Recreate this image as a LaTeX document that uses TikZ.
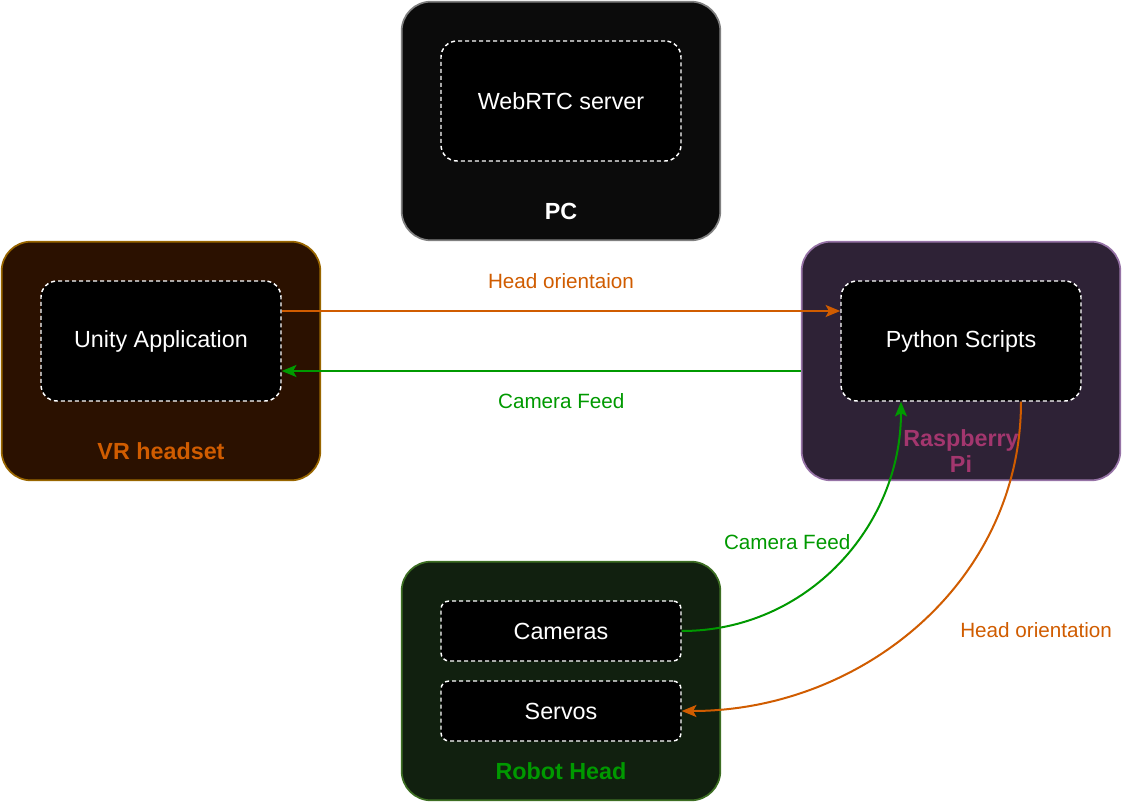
\documentclass[tikz,border=0pt]{standalone}
\usepackage{fontspec}
\setmainfont{Liberation Sans}
\usetikzlibrary{arrows.meta}
\definecolor{pcfill}{RGB}{11,11,11}
\definecolor{pcline}{RGB}{128,128,128}
\definecolor{vrfill}{RGB}{43,17,0}
\definecolor{vrline}{RGB}{153,102,0}
\definecolor{rpifill}{RGB}{46,34,54}
\definecolor{rpiline}{RGB}{150,115,166}
\definecolor{rpitext}{RGB}{163,54,110}
\definecolor{robfill}{RGB}{17,32,15}
\definecolor{robline}{RGB}{61,110,35}
\definecolor{flowor}{RGB}{208,92,0}
\definecolor{flowgr}{RGB}{0,153,0}
\begin{document}
\begin{tikzpicture}[x=0.75pt,y=-0.75pt,
	device/.style={rounded corners=22pt, line width=1.3pt, minimum width=239pt, minimum height=179pt},
	app/.style={draw=white, fill=black, dash pattern=on 3pt off 2.25pt, line width=1.1pt, rounded corners=12pt, minimum width=180pt, minimum height=90pt, text=white, font=\fontsize{17.5}{21}\selectfont},
	part/.style={app, rounded corners=6pt, minimum height=45pt},
	title/.style={font=\fontsize{17.5}{21}\selectfont\bfseries, align=center},
	flow/.style={-{Stealth[length=11pt,width=9pt,inset=2.5pt]}, line width=1.5pt},
	flowlbl/.style={font=\fontsize{15.5}{18}\selectfont}]
	\useasboundingbox (0,0) rectangle (1122,802);
	
	% devices
	\node[device, fill=pcfill, draw=pcline] (pc) at (561,121) {};
	\node[app] (webrtc) at (561,101) {WebRTC server};
	\node[title, text=white] (pclbl) at (561,211) {PC};
	
	\node[device, fill=vrfill, draw=vrline] (vr) at (161,361) {};
	\node[app] (unity) at (161,341) {Unity Application};
	\node[title, text=flowor] (vrlbl) at (161,451) {VR headset};
	
	\node[device, fill=rpifill, draw=rpiline] (rpi) at (961,361) {};
	\node[app] (py) at (961,341) {Python Scripts};
	
	\node[device, fill=robfill, draw=robline] (robot) at (561,681) {};
	\node[part] (cam) at (561,631) {Cameras};
	\node[part] (servo) at (561,711) {Servos};
	\node[title, text=flowgr] (roblbl) at (561,771) {Robot Head};
	
	% flows
	\draw[flow, flowor] ([yshift=22.5pt]unity.east) -- ([yshift=22.5pt]py.west) node[midway, yshift=22.5pt, flowlbl]{Head orientaion};
	\draw[flow, flowgr] ([yshift=-7.5pt]rpi.west) -- ([yshift=-22.5pt]unity.east) node[midway, xshift=15pt, yshift=-22.5pt, flowlbl]{Camera Feed};
	\draw[flow, flowgr] (cam.east) .. controls +(125,0) and +(0,125) .. ([xshift=-45pt]py.south) node[pos=0.6, left=3pt, yshift=-4pt, flowlbl]{Camera Feed};
	\draw[flow, flowor] ([xshift=45pt]py.south) .. controls +(0,180) and +(180,0) .. (servo.east) node[pos=0.5, right=27pt, yshift=-5pt, flowlbl]{Head orientation};
	
	\node[title, text=rpitext] (rpilbl) at (961,451) {Raspberry\\[-1pt]Pi};
\end{tikzpicture}
\end{document}
